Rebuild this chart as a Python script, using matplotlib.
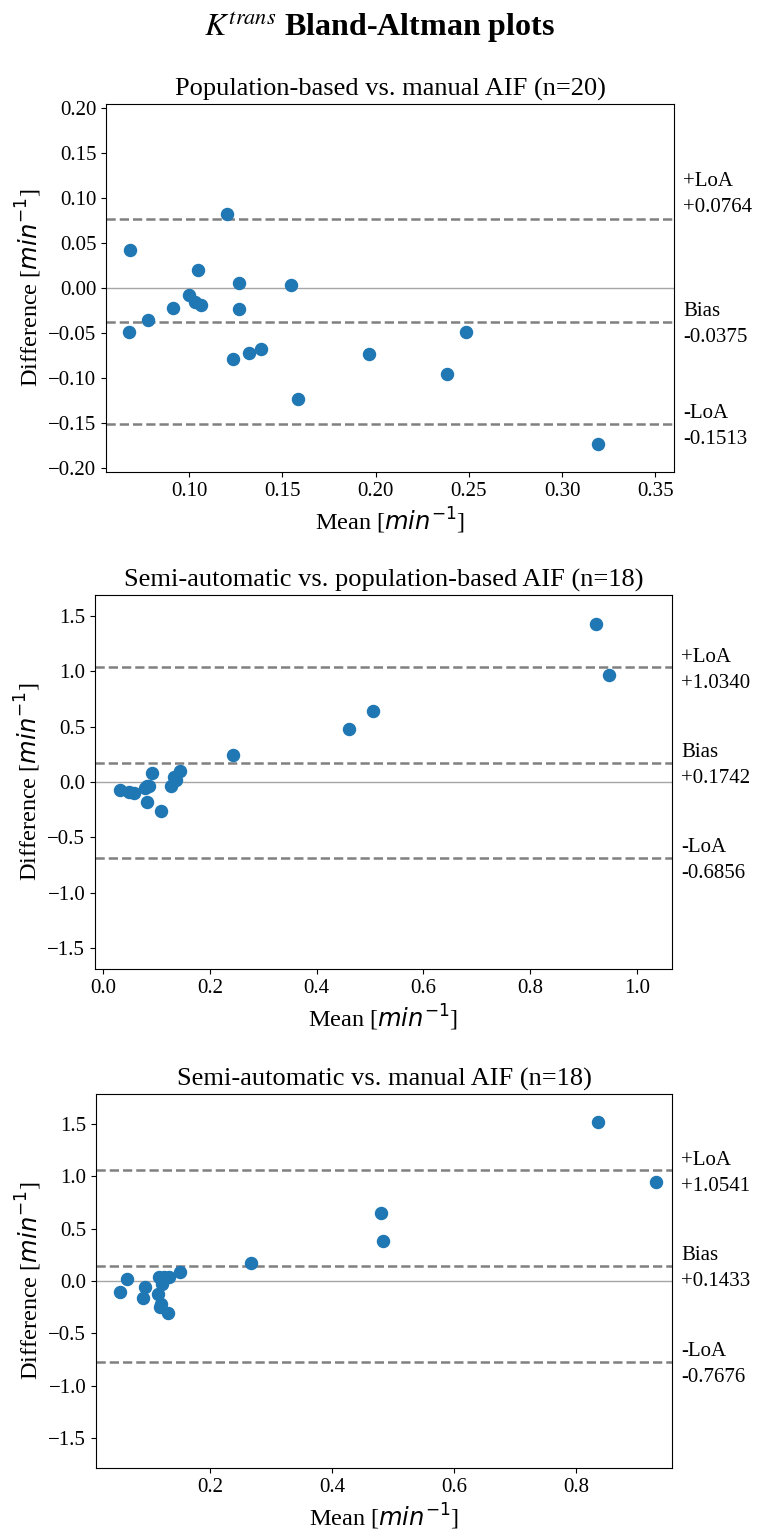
import matplotlib.pyplot as plt
from matplotlib.ticker import MultipleLocator
from matplotlib.transforms import offset_copy

plt.rcParams['font.family'] = ['Liberation Serif', 'DejaVu Serif']

# Panel 1: population-based vs. manual AIF
mean_1 = [0.0685, 0.0678, 0.0780, 0.0913, 0.1002, 0.1031, 0.1063, 0.1050, 0.1204, 0.1270,
          0.1270, 0.1234, 0.1324, 0.1385, 0.1546, 0.1585, 0.1966, 0.2382, 0.2484, 0.3194]
diff_1 = [0.0419, -0.0489, -0.0359, -0.0219, -0.0078, -0.0156, -0.0186, 0.0200, 0.0822, 0.0056,
          -0.0230, -0.0786, -0.0722, -0.0674, 0.0037, -0.1233, -0.0737, -0.0956, -0.0486, -0.1733]

# Panel 2: semi-automatic vs. population-based AIF
mean_2 = [0.0324, 0.0493, 0.0586, 0.0792, 0.0867, 0.0918, 0.0830, 0.1080, 0.1268, 0.1330,
          0.1367, 0.1442, 0.0820, 0.2429, 0.4600, 0.5060, 0.9230, 0.9480]
diff_2 = [-0.068, -0.087, -0.096, -0.057, -0.036, 0.081, -0.176, -0.261, -0.032, 0.045,
          0.022, 0.099, -0.040, 0.240, 0.477, 0.636, 1.427, 0.960]

# Panel 3: semi-automatic vs. manual AIF
mean_3 = [0.0530, 0.0644, 0.0939, 0.0902, 0.1148, 0.1192, 0.1180, 0.1307, 0.1159, 0.1246,
          0.1333, 0.1213, 0.1508, 0.2667, 0.4798, 0.4841, 0.8350, 0.9300]
diff_3 = [-0.105, 0.016, -0.054, -0.165, -0.127, -0.219, -0.250, -0.308, 0.035, 0.041,
          0.041, -0.029, 0.083, 0.174, 0.645, 0.384, 1.510, 0.940]

titles = ['Population-based vs. manual AIF (n=20)',
          'Semi-automatic vs. population-based AIF (n=18)',
          'Semi-automatic vs. manual AIF (n=18)']
bias = [-0.0375, 0.1742, 0.1433]
loa_hi = [0.0764, 1.0340, 1.0541]
loa_lo = [-0.1513, -0.6856, -0.7676]
xlims = [(0.0555, 0.360), (-0.015, 1.066), (0.013, 0.957)]
ylims = [0.2044, 1.685, 1.781]
ysteps = [0.05, 0.5, 0.5]

# axes boxes in pixels (left, top, right, bottom)
W, H = 758, 1533
boxes = [(106, 104, 674, 472), (95, 595, 672, 969), (96, 1094, 672, 1468)]

fig = plt.figure(figsize=(W / 100, H / 100), dpi=100)
fig.suptitle(r'$K^{trans}$ Bland-Altman plots', fontsize=23, fontweight='bold',
             y=1 - 28 / H, va='center', math_fontfamily='stix')

panels = [(mean_1, diff_1), (mean_2, diff_2), (mean_3, diff_3)]
for i, (m, d) in enumerate(panels):
    l, t, r, b = boxes[i]
    ax = fig.add_axes([l / W, 1 - b / H, (r - l) / W, (b - t) / H])
    ax.scatter(m, d, s=75, color='#1f77b4', zorder=3)
    ax.axhline(0, color='grey', lw=1, alpha=0.7)
    for v in (bias[i], loa_hi[i], loa_lo[i]):
        ax.axhline(v, color='grey', ls='--', lw=1.8)
    ax.set_xlim(*xlims[i])
    ax.set_ylim(-ylims[i], ylims[i])
    ax.yaxis.set_major_locator(MultipleLocator(ysteps[i]))
    ax.set_title(titles[i], fontsize=19)
    ax.set_xlabel(r'Mean [$min^{-1}$]', fontsize=17.5, math_fontfamily='dejavusans', labelpad=4)
    ax.set_ylabel(r'Difference [$min^{-1}$]', fontsize=17.5, math_fontfamily='dejavusans', labelpad=3)
    ax.tick_params(labelsize=15)

    # text on the right of each line
    tr = offset_copy(ax.get_yaxis_transform(), fig=fig, x=6.5, y=-2, units='points')
    off_hi = 0.0307 / 0.2044 * ylims[i] if i == 0 else 0.0
    kw = dict(transform=tr, va='center', ha='left', fontsize=15, linespacing=1.5)
    ax.text(1.0, loa_hi[i] + off_hi, '+LoA\n%+.4f' % loa_hi[i], **kw)
    ax.text(1.0, bias[i], 'Bias\n%+.4f' % bias[i], **kw)
    ax.text(1.0, loa_lo[i], '-LoA\n%+.4f' % loa_lo[i], **kw)

fig.savefig('out.png', dpi=100)
